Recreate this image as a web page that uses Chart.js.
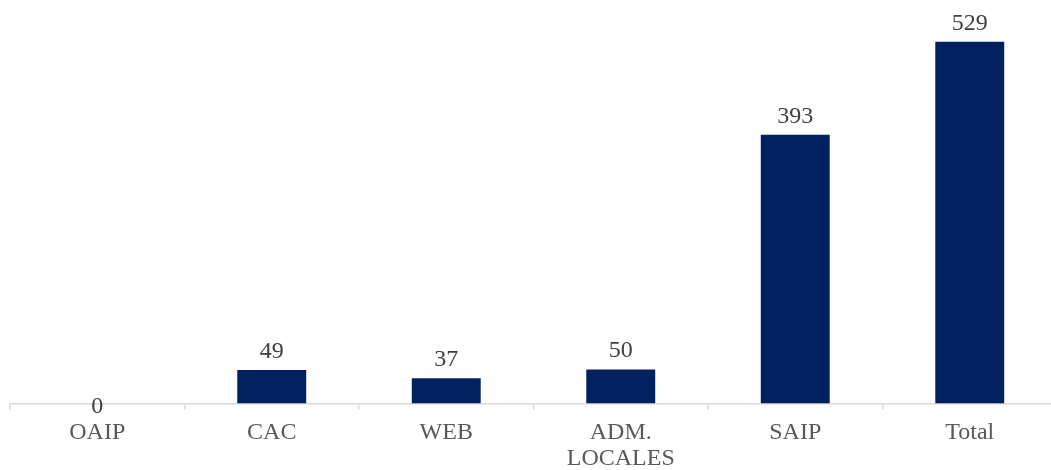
<!DOCTYPE html>
<html>
<head>
<meta charset="utf-8">
<script src="https://cdn.jsdelivr.net/npm/chart.js@4/dist/chart.umd.min.js"></script>
<style>
  html, body { margin: 0; padding: 0; background: #ffffff; overflow: hidden; }
  #wrap { width: 1060px; height: 484px; position: relative; }
</style>
</head>
<body>
<div id="wrap"><canvas id="c"></canvas></div>
<script>
const categories = ['OAIP', 'CAC', 'WEB', ['ADM.', 'LOCALES'], 'SAIP', 'Total'];
const values = [0, 49, 37, 50, 393, 529];

const FONT = "'Liberation Serif', 'Times New Roman', serif";

const dataLabels = {
  id: 'dataLabels',
  afterDatasetsDraw(chart) {
    const ctx = chart.ctx;
    const meta = chart.getDatasetMeta(0);
    ctx.save();
    ctx.font = '24px ' + FONT;
    ctx.fillStyle = '#404040';
    ctx.textAlign = 'center';
    ctx.textBaseline = 'alphabetic';
    meta.data.forEach((bar, i) => {
      const v = values[i];
      const y = v === 0 ? bar.y + 9 : bar.y - 12;
      ctx.fillText(String(v), bar.x, y);
    });
    ctx.restore();
  }
};

new Chart(document.getElementById('c'), {
  type: 'bar',
  data: {
    labels: categories,
    datasets: [{
      data: values,
      backgroundColor: '#002060',
      barPercentage: 0.395,
      categoryPercentage: 1.0
    }]
  },
  options: {
    responsive: true,
    maintainAspectRatio: false,
    animation: false,
    layout: { padding: { left: 10, right: 3, top: 0, bottom: 2 } },
    plugins: { legend: { display: false }, tooltip: { enabled: false } },
    scales: {
      x: {
        offset: true,
        grid: {
          offset: true,
          drawOnChartArea: false,
          drawTicks: true,
          tickLength: 6,
          color: '#d9d9d9',
          lineWidth: 1.5
        },
        border: { display: true, color: '#d9d9d9', width: 1.5 },
        ticks: {
          color: '#595959',
          font: { family: FONT, size: 24, lineHeight: 1.05 },
          padding: 11,
          maxRotation: 0,
          autoSkip: false
        }
      },
      y: {
        display: false,
        min: 0,
        max: 590
      }
    }
  },
  plugins: [dataLabels]
});
</script>
</body>
</html>
